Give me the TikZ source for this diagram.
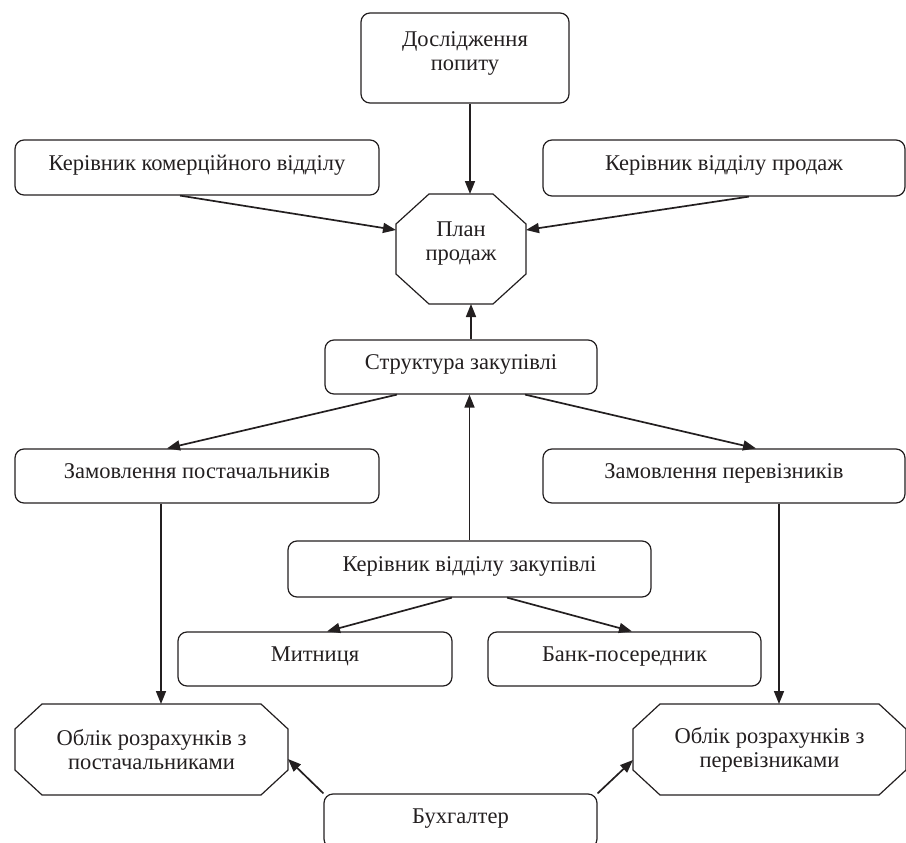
\documentclass[tikz,border=0pt]{standalone}
\usepackage{fontspec}
\setmainfont{Liberation Serif}
\usetikzlibrary{arrows.meta,calc}
\definecolor{ink}{RGB}{35,31,32}
\newcommand\octpath[3]{%
  \draw[octline] ([xshift=#2]#1.north west) -- ([xshift=-#2]#1.north east)
    -- ([yshift=-#3]#1.north east) -- ([yshift=#3]#1.south east)
    -- ([xshift=-#2]#1.south east) -- ([xshift=#2]#1.south west)
    -- ([yshift=#3]#1.south west) -- ([yshift=-#3]#1.north west) -- cycle;}
\begin{document}
\begin{tikzpicture}[x=1pt,y=-1pt,
  txt/.style={text=ink, font=\fontsize{22.5}{24}\selectfont, align=center, inner sep=0pt},
  box/.style={txt, draw=ink, line width=1.2pt, rounded corners=9pt},
  oneline/.style={text height=15pt, text depth=10pt},
  octbox/.style={txt, draw=none, outer sep=0pt},
  octline/.style={draw=ink, line width=1.2pt, line join=miter},
  arr/.style={draw=ink, line width=1.7pt, -{Triangle[length=13pt,width=10pt]}}]
\useasboundingbox (0,0) rectangle (906,843);
\clip (0,0) rectangle (906,843);

\node[box, minimum width=208pt, minimum height=90pt] (dosl) at (465,58)
  {Дослідження\\попиту\rule[-13pt]{0pt}{13pt}};
\node[box, oneline, minimum width=364pt, minimum height=55pt] (kom) at (197,167.5)
  {Керівник комерційного відділу};
\node[box, oneline, minimum width=362pt, minimum height=56pt] (prod) at (724,168)
  {Керівник відділу продаж};
\node[octbox, minimum width=130pt, minimum height=110pt] (plan) at (461,249)
  {План\\продаж\rule[-15pt]{0pt}{15pt}};
\node[box, oneline, minimum width=272pt, minimum height=54pt] (strukt) at (461,367)
  {Структура закупівлі};
\node[box, oneline, minimum width=364pt, minimum height=54pt] (zampost) at (197,476)
  {Замовлення постачальників};
\node[box, oneline, minimum width=362pt, minimum height=54pt] (zamper) at (724,476)
  {Замовлення перевізників};
\node[box, oneline, minimum width=363pt, minimum height=56pt] (kerzak) at (469.5,569)
  {Керівник відділу закупівлі};
\node[box, oneline, minimum width=274pt, minimum height=54pt] (mytn) at (315,659)
  {Митниця};
\node[box, oneline, minimum width=273pt, minimum height=54pt] (bank) at (624.5,659)
  {Банк-посередник};
\node[octbox, minimum width=273pt, minimum height=91pt] (oblpost) at (151.5,749.5)
  {Облік розрахунків з\\постачальниками};
\node[octbox, minimum width=273pt, minimum height=91pt] (oblper) at (769.5,749.5)
  {Облік розрахунків з\\перевізниками};
\node[box, oneline, minimum width=273pt, minimum height=54pt] (buh) at (460.5,821)
  {Бухгалтер};

\octpath{plan}{33pt}{30pt}
\octpath{oblpost}{27pt}{25pt}
\octpath{oblper}{27pt}{25pt}

\draw[arr] ([xshift=5pt]dosl.south) -- ([xshift=5pt]dosl.south |- plan.north);
\draw[arr] ([xshift=-17pt]kom.south) -- ([yshift=19pt]plan.west);
\draw[arr] ([xshift=25pt]prod.south) -- ([yshift=19pt]plan.east);
\draw[arr] ([xshift=10pt]strukt.north) -- ([xshift=10pt]strukt.north |- plan.south);
\draw[arr] ([xshift=-64pt]strukt.south) -- ([xshift=-30pt]zampost.north);
\draw[arr] ([xshift=64pt]strukt.south) -- ([xshift=32pt]zamper.north);
\draw[arr] (kerzak.north) -- (kerzak.north |- strukt.south);
\draw[arr] ([xshift=-17.5pt]kerzak.south) -- ([xshift=12pt]mytn.north);
\draw[arr] ([xshift=37.5pt]kerzak.south) -- ([xshift=7.5pt]bank.north);
\draw[arr] ([xshift=-36pt]zampost.south) -- ([xshift=-36pt]zampost.south |- oblpost.north);
\draw[arr] ([xshift=55pt]zamper.south) -- ([xshift=55pt]zamper.south |- oblper.north);
\draw[arr] (buh.north west) -- ([yshift=-9.5pt]oblpost.east);
\draw[arr] (buh.north east) -- ([yshift=-10.5pt]oblper.west);
\end{tikzpicture}
\end{document}
